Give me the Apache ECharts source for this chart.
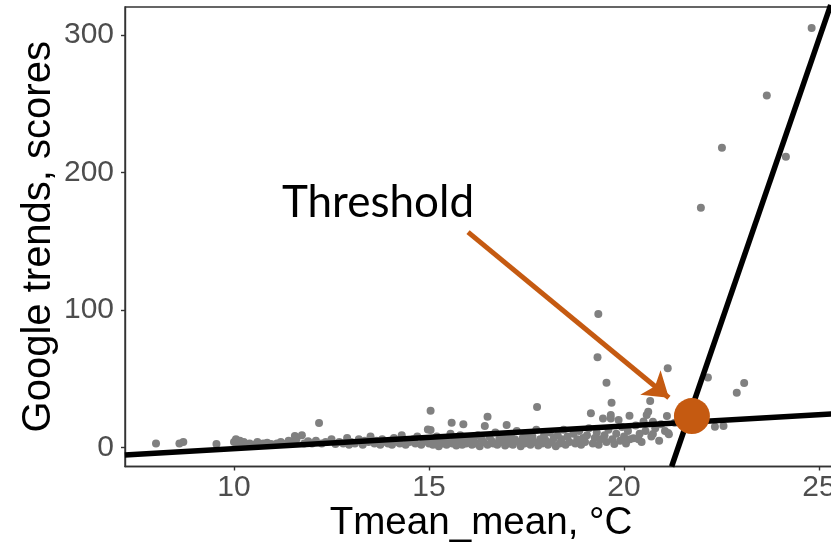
<!DOCTYPE html>
<html><head><meta charset="utf-8">
<script src="https://cdn.jsdelivr.net/npm/echarts@6/dist/echarts.min.js"></script>
<style>html,body{margin:0;padding:0;background:#fff}#c{width:831px;height:551px}</style>
</head><body><div id="c"></div>
<script>
// Observed points (Tmean_mean, Google trends score)
const tmean = [
8.0,8.6,8.7,9.55,
10.0,10.05,10.1,10.15,10.2,10.25,10.4,10.5,10.6,10.75,10.85,10.95,
11.1,11.2,11.3,11.4,11.5,11.56,11.74,11.6,11.8,11.9,
12.0,12.1,12.18,12.25,12.35,12.5,12.6,12.7,12.8,12.9,12.95,
13.0,13.1,13.2,13.3,13.35,13.45,13.5,13.6,13.65,13.75,13.8,13.9,13.95,
14.0,14.05,14.1,14.2,14.25,14.3,14.4,14.45,14.5,14.6,14.65,14.7,14.8,14.85,14.9,14.97,15.04,15.04,
15.0,15.05,15.1,15.15,15.2,15.25,15.3,15.35,15.4,15.45,15.5,15.55,15.58,15.6,15.65,15.7,15.75,15.8,15.88,15.85,15.9,15.95,
16.0,16.05,16.1,16.15,16.2,16.25,16.3,16.35,16.43,16.4,16.5,16.5,16.55,16.6,16.65,16.7,16.75,16.8,16.85,16.9,16.95,16.99,
17.0,17.05,17.1,17.15,17.2,17.25,17.3,17.35,17.4,17.45,17.5,17.55,17.6,17.65,17.7,17.77,17.75,17.8,17.85,17.9,17.95,
18.0,18.05,18.1,18.15,18.2,18.25,18.3,18.35,18.4,18.45,18.5,18.55,18.6,18.7,18.75,18.8,18.85,18.9,18.95,
19.0,19.05,19.1,19.15,19.2,19.25,19.32,19.34,19.3,19.35,19.4,19.46,19.5,19.55,19.55,19.6,19.66,19.66,19.68,19.7,19.75,19.8,19.86,19.9,19.95,
20.0,20.05,20.14,20.1,20.15,20.24,20.3,20.37,20.4,20.45,20.5,20.58,20.62,20.67,20.55,20.7,20.74,20.74,20.8,20.9,20.95,
21.05,21.1,21.12,21.13,21.15,21.3,22.15,22.33,22.55,22.89,23.08,21.97,22.51,24.15,23.66,24.81
];
const trends = [
3,3,4,2.5,
4,6,3,5,2,4,3,2,4,3,3.5,2.5,
3,4,2.5,5,4,8.4,9,6,3,4.5,
3,5,17.8,3,4,6,2.5,4,3,7,2,
4,3,6,2,5,4,8,3,5,2,6,4,3,
5,2,7,4,3,9,2,5,4,6,3,8,2,4,5,13.2,12.7,26.8,
3,6,2,4,8,1,5,3,7,2,4,10,18,3,6,1.5,4,9,16.9,2,5,3,
4,7,2,5,3,9,1,6,15.6,4,22.4,2,8,5,3,11,2,6,4,9,1.5,16.4,
5,3,8,2,6,12,4,1,7,3,10,5,2,8,4,29.5,13,1.5,6,3,9,
5,2,11,4,7,1,9,3,6,13,2,8,4,10,3,6,12,2,7,
4,9,14,24.9,3,7,65.6,97.1,11,2,6,21.2,9,47.1,4,13,23.6,21.2,32.6,6,2.5,10,20,5,15,
8,3,23.1,12,6,6.7,16,6,10,4,19,23.6,26,33.8,12,8,9.8,18.8,14,5,17,
12,22.9,57.6,10.5,9.6,18,51,15.1,15.6,39.9,46.9,174.4,218,211.5,256.1,305.1
];
// Segmented regression lines (endpoints)
const lowerLineX = [7.2, 25.46];
const lowerLineY = [-5.5, 24.7];
const upperLineX = [21.22, 25.3];
const upperLineY = [-13.8, 322];
// Threshold point
const thresholdX = [21.74];
const thresholdY = [22.9];
// Ticks
const xTicks = [10, 15, 20, 25];
const yTicks = [0, 100, 200, 300];

const pts = tmean.map((x, i) => [x, trends[i]]);
const lower = lowerLineX.map((x, i) => [x, lowerLineY[i]]);
const upper = upperLineX.map((x, i) => [x, upperLineY[i]]);
const thr = thresholdX.map((x, i) => [x, thresholdY[i]]);

const chart = echarts.init(document.getElementById('c'), null, {renderer: 'canvas'});
const orange = '#C55A11';
chart.setOption({
  animation: false,
  backgroundColor: '#fff',
  grid: {left: 125, top: 7, right: -6, bottom: 84.5, show: true, borderColor: '#333', borderWidth: 1.4,
         backgroundColor: 'transparent', containLabel: false, outerBoundsMode: 'none'},
  xAxis: {
    type: 'value', min: 7.205, max: 25.46,
    name: 'Tmean_mean, °C', nameLocation: 'middle', nameGap: 37, nameMoveOverlap: false,
    nameTextStyle: {fontFamily: 'Liberation Sans', fontSize: 38.6, color: '#000'},
    axisLine: {show: true, onZero: false, lineStyle: {color: '#333', width: 1.4}},
    axisTick: {show: true, length: 4, customValues: xTicks, lineStyle: {color: '#333', width: 1.4}},
    axisLabel: {customValues: xTicks, margin: 6, fontFamily: 'Liberation Sans', fontSize: 30, color: '#4D4D4D'},
    splitLine: {show: false}
  },
  yAxis: {
    type: 'value', min: -13.8, max: 320.4,
    name: 'Google trends, scores', nameLocation: 'middle', nameGap: 66, nameMoveOverlap: false,
    nameTextStyle: {fontFamily: 'Liberation Sans', fontSize: 40, color: '#000'},
    axisLine: {show: true, onZero: false, lineStyle: {color: '#333', width: 1.4}},
    axisTick: {show: true, length: 4, customValues: yTicks, lineStyle: {color: '#333', width: 1.4}},
    axisLabel: {customValues: yTicks, margin: 11, fontFamily: 'Liberation Sans', fontSize: 30, color: '#4D4D4D'},
    splitLine: {show: false}
  },
  series: [
    {type: 'scatter', data: pts, symbolSize: 8, itemStyle: {color: '#808080', opacity: 1}, z: 2, silent: true},
    {type: 'line', data: lower, symbol: 'none', lineStyle: {color: '#000', width: 5.5}, z: 3, silent: true},
    {type: 'line', data: upper, symbol: 'none', lineStyle: {color: '#000', width: 5.5}, z: 3, silent: true},
    {type: 'scatter', data: thr, symbolSize: 36, itemStyle: {color: orange, opacity: 1}, z: 5, silent: true,
     markLine: {
       silent: true, symbol: ['none', 'arrow'], symbolSize: 24,
       label: {show: false},
       lineStyle: {color: orange, width: 5, type: 'solid', opacity: 1},
       data: [[{coord: [16.0, 156.7]}, {coord: [21.15, 36.2]}]]
     }}
  ],
  graphic: [
    {type: 'text', x: 378, y: 203, z: 10,
     style: {text: 'Threshold', font: '44px Lato', fill: '#000', align: 'center', verticalAlign: 'middle'}}
  ]
});
</script>
</body></html>
